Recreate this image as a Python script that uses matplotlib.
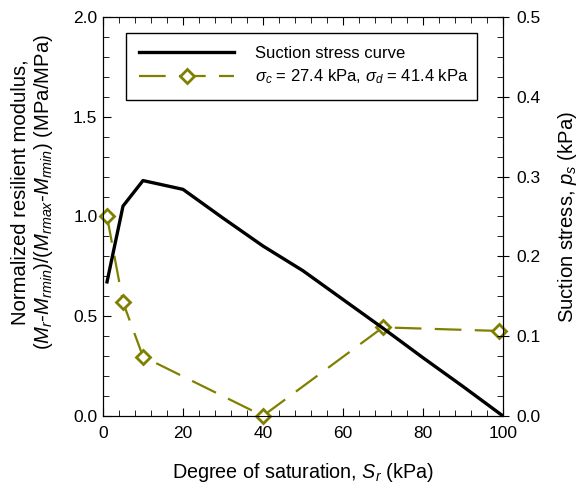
import numpy as np
import matplotlib
matplotlib.use('Agg')
import matplotlib.pyplot as plt
from matplotlib.ticker import MultipleLocator, FormatStrFormatter
from matplotlib.lines import Line2D

plt.rcParams['font.family'] = ['Liberation Sans', 'DejaVu Sans']
plt.rcParams['mathtext.fontset'] = 'custom'
plt.rcParams['mathtext.rm'] = 'Liberation Sans'
plt.rcParams['mathtext.it'] = 'Liberation Sans:italic'
plt.rcParams['mathtext.bf'] = 'Liberation Sans:bold'

# suction stress curve (right axis)
sr_curve = [1, 5, 10, 20, 30, 40, 50, 60, 70, 80, 90, 100]
ps_curve = [0.168, 0.263, 0.295, 0.284, 0.248, 0.213, 0.182, 0.146, 0.110, 0.073, 0.037, 0.0]

# normalized resilient modulus (left axis)
sr_test = [1, 5, 10, 40, 70, 99]
mr_norm = [1.0, 0.57, 0.297, 0.0, 0.444, 0.426]

olive = '#808000'

fig = plt.figure(figsize=(5.82, 4.87), dpi=100)
ax = fig.add_axes([0.177, 0.146, 0.687, 0.819])

ax.plot(sr_test, mr_norm, color=olive, lw=1.6, dashes=(12, 6),
        marker='D', ms=7, mfc='white', mec=olive, mew=2, clip_on=False, zorder=3)

ax.set_xlim(0, 100)
ax.set_ylim(0, 2.0)
ax.xaxis.set_major_locator(MultipleLocator(20))
ax.xaxis.set_minor_locator(MultipleLocator(4))
ax.yaxis.set_major_locator(MultipleLocator(0.5))
ax.yaxis.set_minor_locator(MultipleLocator(0.1))
ax.yaxis.set_major_formatter(FormatStrFormatter('%.1f'))
ax.tick_params(which='both', direction='in', top=True, labelsize=12.5)
ax.tick_params(axis='x', which='major', length=6, pad=7)
ax.tick_params(axis='y', which='major', length=6, pad=4)
ax.tick_params(which='minor', length=4)

ax.set_xlabel('Degree of saturation, $S_r$ (kPa)', fontsize=14.2, labelpad=15)
ax.set_ylabel('Normalized resilient modulus,\n'
              '($M_r$-$M_{rmin}$)/($M_{rmax}$-$M_{rmin}$) (MPa/MPa)',
              fontsize=14.6, linespacing=1.15)
ax.yaxis.set_label_coords(-0.12, 0.56)

ax2 = ax.twinx()
ax2.plot(sr_curve, ps_curve, color='black', lw=2.4)
ax2.set_ylim(0, 0.5)
ax2.yaxis.set_major_locator(MultipleLocator(0.1))
ax2.yaxis.set_minor_locator(MultipleLocator(0.025))
ax2.yaxis.set_major_formatter(FormatStrFormatter('%.1f'))
ax2.tick_params(axis='y', which='major', direction='inout', length=9, pad=5, labelsize=12.5)
ax2.tick_params(axis='y', which='minor', direction='in', length=4)
ax2.set_ylabel('Suction stress, $p_s$ (kPa)', fontsize=14.6, labelpad=11)

handles = [Line2D([], [], color='black', lw=2.4),
           Line2D([], [], color=olive, lw=1.6, dashes=(12, 6), marker='D', ms=7,
                  mfc='white', mec=olive, mew=2)]
labels = ['Suction stress curve',
          r'$\sigma_c$ = 27.4 kPa, $\sigma_d$ = 41.4 kPa']
leg = ax2.legend(handles, labels, loc='upper left',
                 bbox_to_anchor=(0.057, 0.792, 0.878, 0.169), mode='expand',
                 fontsize=12, handlelength=5.7, handletextpad=1.25,
                 labelspacing=0.4, borderpad=0.8, borderaxespad=0,
                 fancybox=False, framealpha=1, edgecolor='black')
leg.get_frame().set_linewidth(1.0)

fig.savefig('out.png', dpi=100)
